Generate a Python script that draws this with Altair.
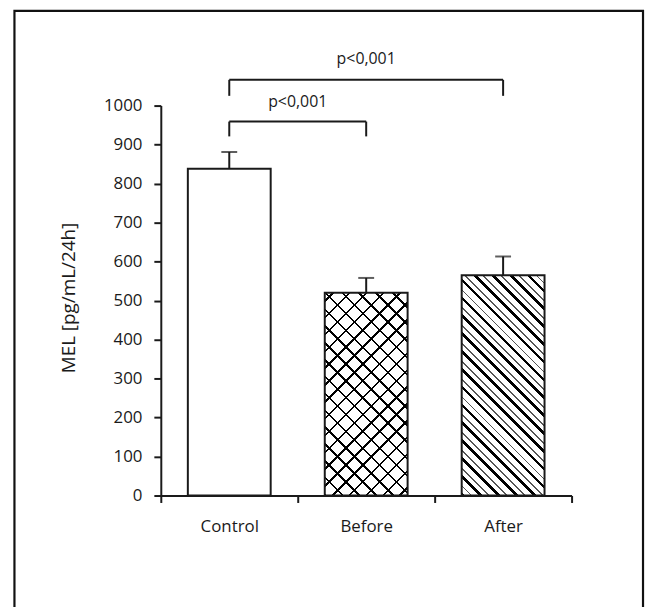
import math
import altair as alt
import pandas as pd

# ---- data ----
categories = ["Control", "Before", "After"]
mean_values = [838, 520, 565]
upper_values = [881, 558, 613]

bracket_from = ["Control", "Control"]
bracket_to = ["Before", "After"]
bracket_top = [959, 1066]
bracket_leg = [921, 1025]
label_y = [997, 1106]
label_text = ["p<0,001", "p<0,001"]

y_ticks = list(range(0, 1001, 100))

# ---- layout / style ----
W, H = 414, 393
BAR_FRAC = 0.605
FONT = "Open Sans"
INK = "#1a1a1a"

bars = pd.DataFrame({"cat": categories, "mean": mean_values, "upper": upper_values})
idx = {c: i for i, c in enumerate(categories)}
br = pd.DataFrame({
    "x1": [idx[a] + 0.5 for a in bracket_from],
    "x2": [idx[b] + 0.5 for b in bracket_to],
    "top": bracket_top,
    "leg": bracket_leg,
    "ly": label_y,
    "label": label_text,
})
br["mid"] = (br["x1"] + br["x2"]) / 2


def stripes(value, direction, period, lines, bg):
    """Linear gradient that draws 45-degree hatch lines inside a bar."""
    w = BAR_FRAC * W / len(categories)
    h = value * H / 1000.0
    L = (w + h) / math.sqrt(2)
    t = (w + h) / (w * w + h * h)
    stops = [{"offset": 0, "color": bg}]
    k = 0
    while k * period < L:
        for a, b, col in lines:
            o1 = min((k * period + a) / L, 1)
            o2 = min((k * period + b) / L, 1)
            stops += [{"offset": o1, "color": bg}, {"offset": o1, "color": col},
                      {"offset": o2, "color": col}, {"offset": o2, "color": bg}]
        k += 1
    stops.append({"offset": 1, "color": bg})
    if direction == "\\":
        g = {"x1": 0, "y1": 1, "x2": t * w, "y2": 1 - t * h}
    else:
        g = {"x1": 0, "y1": 0, "x2": t * w, "y2": t * h}
    g.update({"gradient": "linear", "stops": stops})
    return g


ysc = alt.Scale(domain=[0, 1000], nice=False)
bsc = alt.Scale(domain=categories, paddingInner=0, paddingOuter=0)
xq = alt.Scale(domain=[0, len(categories)], nice=False, zero=False)

x_plain = alt.X("cat:N", scale=bsc, axis=None)
x_axis = alt.X("cat:N", scale=bsc,
               axis=alt.Axis(title=None, labelAngle=0, tickBand="extent",
                             labelPadding=16, labelFontSize=17))
y_plain = alt.Y("mean:Q", scale=ysc, axis=None)
y_axis = alt.Y("mean:Q", scale=ysc,
               axis=alt.Axis(values=y_ticks, grid=False, title="MEL [pg/mL/24h]",
                             format="d", labelOverlap=False,
                             labelPadding=12, labelFontSize=17,
                             titleFontSize=19, titleFontWeight="normal",
                             titleX=-93, titleY=H / 2 - 3, titleAngle=-90,
                             titleAlign="center", titleBaseline="middle"))

base = alt.Chart(bars)
bw = {"band": BAR_FRAC}

before_val = mean_values[categories.index("Before")]
after_val = mean_values[categories.index("After")]

before_a = base.transform_filter(alt.datum.cat == "Before").mark_bar(
    width=bw, strokeWidth=0,
    fill=stripes(before_val, "\\", 12.0, [(0, 1.8, "#000")], "#ffffff"),
).encode(x=x_plain, y=y_plain)
before_b = base.transform_filter(alt.datum.cat == "Before").mark_bar(
    width=bw, strokeWidth=0,
    fill=stripes(before_val, "/", 12.0, [(5, 6.8, "#000")], "rgba(255,255,255,0)"),
).encode(x=x_plain, y=y_plain)
after_fill = base.transform_filter(alt.datum.cat == "After").mark_bar(
    width=bw, strokeWidth=0,
    fill=stripes(after_val, "\\", 12.7, [(0, 2.6, "#000"), (6.3, 7.6, "#555")], "#ffffff"),
).encode(x=x_plain, y=y_plain)
outline = base.mark_bar(width=bw, fill="transparent", stroke=INK, strokeWidth=2).encode(
    x=x_axis, y=y_axis)

err = base.mark_rule(color=INK, strokeWidth=2).encode(x=x_plain, y=y_plain, y2="upper:Q")
cap = base.mark_tick(color=INK, thickness=2, size=16).encode(
    x=x_plain, y=alt.Y("upper:Q", scale=ysc, axis=None))

bch = alt.Chart(br)
h_rule = bch.mark_rule(color=INK, strokeWidth=2).encode(
    x=alt.X("x1:Q", scale=xq, axis=None), x2="x2:Q",
    y=alt.Y("top:Q", scale=ysc, axis=None))
leg_l = bch.mark_rule(color=INK, strokeWidth=2).encode(
    x=alt.X("x1:Q", scale=xq, axis=None),
    y=alt.Y("leg:Q", scale=ysc, axis=None), y2="top:Q")
leg_r = bch.mark_rule(color=INK, strokeWidth=2).encode(
    x=alt.X("x2:Q", scale=xq, axis=None),
    y=alt.Y("leg:Q", scale=ysc, axis=None), y2="top:Q")
labels = bch.mark_text(font=FONT, fontSize=16, color=INK, baseline="alphabetic").encode(
    x=alt.X("mid:Q", scale=xq, axis=None),
    y=alt.Y("ly:Q", scale=ysc, axis=None), text="label:N")

frame = alt.Chart(pd.DataFrame({"f": [0]})).mark_rect(
    fill="transparent", stroke="#111", strokeWidth=2.2).encode(
    x=alt.value(-147.5), x2=alt.value(486), y=alt.value(-95.5), y2=alt.value(H + 130))

chart = alt.layer(
    before_a, before_b, after_fill, outline, err, cap,
    h_rule, leg_l, leg_r, labels, frame,
).resolve_scale(x="independent").resolve_axis(x="independent", y="independent").properties(
    width=W, height=H,
    autosize=alt.AutoSizeParams(type="none"),
    padding={"left": 154, "top": 96, "right": 74, "bottom": 110},
).configure_view(stroke=None).configure_axis(
    labelFont=FONT, titleFont=FONT, labelColor=INK, titleColor=INK,
    domainColor=INK, domainWidth=2, tickColor=INK, tickWidth=2, tickSize=7,
).configure_axisY(labelOverlap=False)

chart.save("out.html", embed_options={"renderer": "svg", "actions": False})
